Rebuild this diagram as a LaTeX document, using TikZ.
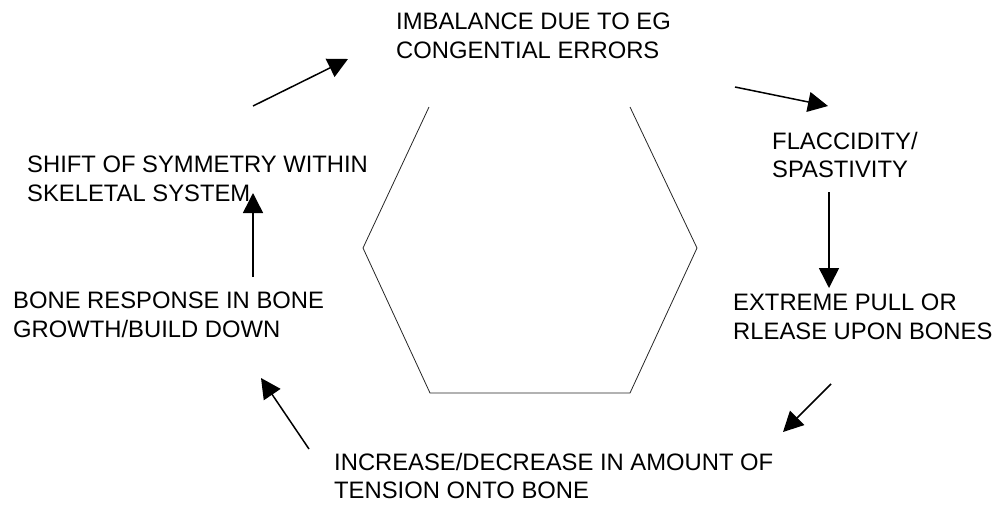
\documentclass[tikz,border=0pt]{standalone}
\usepackage{fontspec}
\setmainfont{Liberation Sans}
\usetikzlibrary{arrows.meta}
\begin{document}
\begin{tikzpicture}[x=1pt,y=-1pt,
  lbl/.style={anchor=north west,inner sep=0pt,align=left,font=\fontsize{23.8}{28.5}\selectfont},
  flow/.style={line width=1.5pt,-{Triangle[length=20pt,width=20pt]}},
  hexline/.style={line width=0.8pt,draw=black!85}]
\useasboundingbox (0,0) rectangle (995,504);
% hexagon (open at top)
\draw[hexline] (429,107) -- (363,248) -- (430,393) -- (630,393) -- (697,248) -- (630,107);
% labels
\node[lbl] (imb) at (396,13) {IMBALANCE DUE TO EG\\CONGENTIAL ERRORS};
\node[lbl] (fla) at (772,132) {FLACCIDITY/\\SPASTIVITY};
\node[lbl] (ext) at (733,294) {EXTREME PULL OR\\RLEASE UPON BONES};
\node[lbl] (inc) at (334,453) {INCREASE/DECREASE IN AMOUNT OF\\TENSION ONTO BONE};
\node[lbl] (bon) at (13,292) {BONE RESPONSE IN BONE\\GROWTH/BUILD DOWN};
\node[lbl] (shi) at (27,156) {SHIFT OF SYMMETRY WITHIN\\SKELETAL SYSTEM};
% arrow end points
\coordinate (a1s) at (253,106); \coordinate (a1e) at (348,59);
\coordinate (a2s) at (735,87);  \coordinate (a2e) at (828,106);
\coordinate (a3s) at (829,192); \coordinate (a3e) at (829,288);
\coordinate (a4s) at (831,384); \coordinate (a4e) at (783,432);
\coordinate (a5s) at (309,449); \coordinate (a5e) at (261,378);
\coordinate (a6s) at (253,277); \coordinate (a6e) at (253,193);
\draw[flow] (a1s) -- (a1e);
\draw[flow] (a2s) -- (a2e);
\draw[flow] (a3s) -- (a3e);
\draw[flow] (a4s) -- (a4e);
\draw[flow] (a5s) -- (a5e);
\draw[flow] (a6s) -- (a6e);
\end{tikzpicture}
\end{document}
